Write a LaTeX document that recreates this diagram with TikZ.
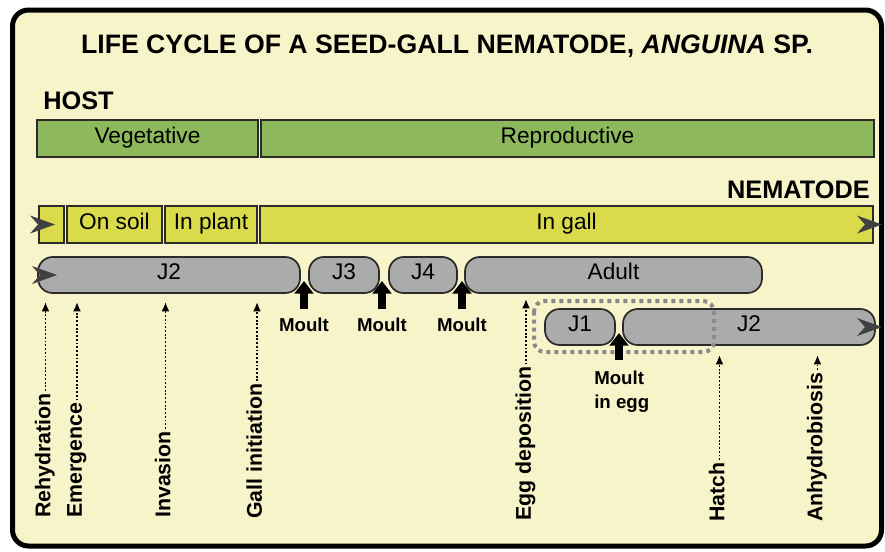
\documentclass[tikz,border=0pt]{standalone}
\usepackage{fontspec}
\setmainfont{Liberation Sans}
\usetikzlibrary{arrows.meta}

\begin{document}
\begin{tikzpicture}[x=0.75pt,y=-0.75pt,font=\fontsize{17}{20}\selectfont,
    hostbox/.style={draw=edgegray,line width=1.3pt,fill=hostgreen,minimum width=#1*0.75pt,
      minimum height=37*0.75pt,inner sep=0pt,text height=0.72em,text depth=0pt},
    nemabox/.style={hostbox=#1,fill=nemayellow},
    pill/.style={draw=edgegray,line width=1.3pt,fill=pillgray,rounded corners=11pt,
      minimum width=#1*0.75pt,minimum height=36*0.75pt,inner sep=0pt,text height=0.72em,text depth=0pt},
    moult/.style={font=\fontsize{14}{16}\selectfont\bfseries,inner sep=0pt},
    moultarrow/.style={line width=6pt,-{Triangle[length=9.5pt,width=14pt]},shorten <=6pt},
    evlab/.style={font=\fontsize{16}{18}\selectfont\bfseries,rotate=90,anchor=west,
      inner sep=1.5pt,text height=0.72em,text depth=0pt},
    evarrow/.style={line width=1.4pt,dash pattern=on 1.4pt off 1.4pt,-{Latex[length=7pt,width=6pt]}},
    eggline/.style={draw=eggrim,line width=3pt,dash pattern=on 3pt off 3pt,rounded corners=8pt}]
  \definecolor{bgcream}{HTML}{F8F4C9}
  \definecolor{edgegray}{HTML}{2B2B2B}
  \definecolor{hostgreen}{HTML}{8DB85C}
  \definecolor{nemayellow}{HTML}{D9DB4A}
  \definecolor{pillgray}{HTML}{ABABAB}
  \definecolor{headgray}{HTML}{404040}
  \definecolor{eggrim}{HTML}{8A8A8A}

  \useasboundingbox (0,0) rectangle (885,551);
  \draw[line width=3.75pt,rounded corners=12pt,fill=bgcream] (12.5,10) rectangle (881.5,546);

  \node[font=\fontsize{20}{24}\selectfont\bfseries,anchor=base] (title) at (447,53)
    {LIFE CYCLE OF A SEED-GALL NEMATODE, \textit{ANGUINA} SP.};

  % Host
  \node[font=\fontsize{19}{22}\selectfont\bfseries,anchor=base west,inner sep=0pt] (host) at (43,109) {HOST};
  \node[hostbox=221] (veg) at (147.5,138.5) {Vegetative};
  \node[hostbox=613] (repro) at (567.5,138.5) {Reproductive};

  % Nematode
  \node[font=\fontsize{19}{22}\selectfont\bfseries,anchor=base east,inner sep=0pt] (nema) at (870,198) {NEMATODE};
  \node[nemabox=25] (start) at (51.5,224.5) {};
  \node[nemabox=95] (soil) at (114.5,224.5) {On soil};
  \node[nemabox=92] (plant) at (211,224.5) {In plant};
  \node[nemabox=613] (gall) at (566.5,224.5) {In gall};

  % Stages
  \node[pill=262] (jtwo) at (169,275) {J2};
  \node[pill=70] (jthree) at (344,275) {J3};
  \node[pill=68] (jfour) at (423,275) {J4};
  \node[pill=297] (adult) at (613.5,275) {Adult};
  \node[pill=70] (jone) at (580,327) {J1};
  \node[pill=252] (jtwoegg) at (749,327) {J2};
  \draw[eggline] (534,301) rectangle (714,352);

  \foreach \tx/\ty in {55/224.5,882/224.5,57/275,882/327}
    \fill[headgray] (\tx,\ty) -- ++(-25,-9) -- ++(8,9) -- ++(-8,9) -- cycle;

  % Moults
  \node[moult,anchor=base] (mone) at (304,331) {Moult};
  \node[moult,anchor=base] (mtwo) at (382,331) {Moult};
  \node[moult,anchor=base] (mthree) at (462,331) {Moult};
  \node[moult,anchor=base west] (megg) at (594,384) {Moult};
  \node[moult,anchor=base west] (meggb) at (594,408) {in egg};
  \coordinate (monetip) at (304,281);
  \coordinate (mtwotip) at (382,281);
  \coordinate (mthreetip) at (462,281);
  \coordinate (meggtip) at (619,333);
  \draw[moultarrow] (mone.north) -- (monetip);
  \draw[moultarrow] (mtwo.north) -- (mtwotip);
  \draw[moultarrow] (mthree.north) -- (mthreetip);
  \draw[moultarrow,shorten <=7.5pt] (megg.north -| meggtip) -- (meggtip);

  % Events
  \node[evlab] (rehyd) at (45.5,520) {Rehydration};
  \node[evlab] (emerg) at (77,520) {Emergence};
  \node[evlab] (invas) at (165.5,520) {Invasion};
  \node[evlab] (gallin) at (257,521) {Gall initiation};
  \node[evlab] (eggdep) at (526,523) {Egg deposition};
  \node[evlab] (hatch) at (719.5,524) {Hatch};
  \node[evlab] (anhyd) at (817.5,524) {Anhydrobiosis};
  \coordinate (rehydtip) at (45.5,302);
  \coordinate (emergtip) at (77,302);
  \coordinate (invastip) at (165.5,302);
  \coordinate (gallintip) at (257,302);
  \coordinate (eggdeptip) at (526,299);
  \coordinate (hatchtip) at (719.5,355);
  \coordinate (anhydtip) at (817.5,355);
  \foreach \ev in {rehyd,emerg,invas,gallin,eggdep,hatch,anhyd}
    \draw[evarrow] (\ev.east) -- (\ev tip);
\end{tikzpicture}
\end{document}
